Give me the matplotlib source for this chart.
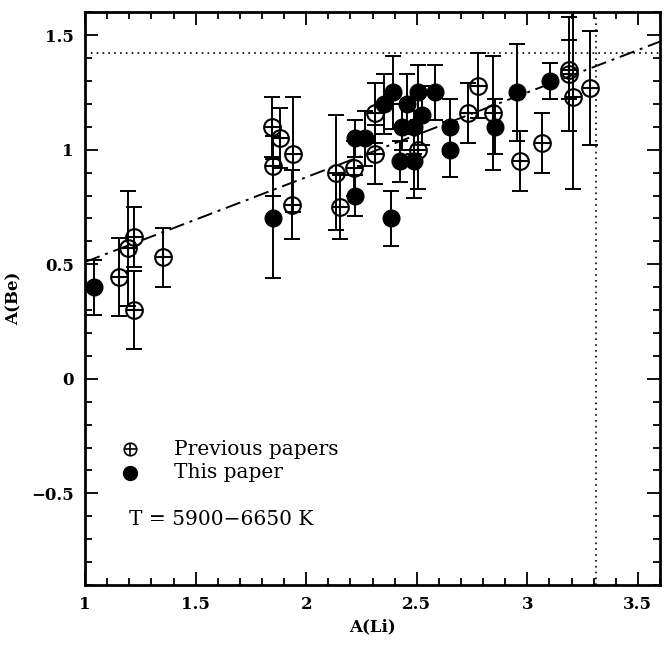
import matplotlib
matplotlib.use("Agg")
import matplotlib.pyplot as plt
from matplotlib.ticker import MultipleLocator
import numpy as np

# Previous papers (open circles with cross)
prev_li = [1.154, 1.193, 1.223, 1.223, 1.351, 1.845, 1.882, 1.852, 1.940, 1.935,
           2.136, 2.154, 2.214, 2.312, 2.312, 2.504, 2.734, 2.775, 2.845, 2.965,
           3.066, 3.187, 3.190, 3.205, 3.285]
prev_be = [0.445, 0.57, 0.62, 0.30, 0.53, 1.10, 1.05, 0.93, 0.98, 0.76,
           0.90, 0.75, 0.92, 0.98, 1.16, 1.00, 1.16, 1.28, 1.16, 0.95,
           1.03, 1.33, 1.35, 1.23, 1.27]
prev_err = [0.17, 0.25, 0.13, 0.17, 0.13, 0.13, 0.13, 0.13, 0.25, 0.15,
            0.25, 0.14, 0.12, 0.13, 0.13, 0.17, 0.13, 0.14, 0.25, 0.13,
            0.13, 0.25, 0.13, 0.40, 0.25]

# This paper (filled circles)
this_li = [1.04, 1.852, 2.222, 2.267, 2.222, 2.353, 2.392, 2.383, 2.433, 2.425,
           2.455, 2.486, 2.504, 2.523, 2.486, 2.584, 2.652, 2.652, 2.855, 2.953,
           3.104]
this_be = [0.40, 0.70, 1.05, 1.05, 0.80, 1.20, 1.25, 0.70, 1.10, 0.95,
           1.20, 1.10, 1.25, 1.15, 0.95, 1.25, 1.10, 1.00, 1.10, 1.25,
           1.30]
this_err = [0.12, 0.26, 0.08, 0.12, 0.09, 0.13, 0.16, 0.12, 0.10, 0.09,
            0.13, 0.12, 0.12, 0.13, 0.16, 0.12, 0.12, 0.12, 0.12, 0.21,
            0.08]

# linear fit and meteoritic values
fit_slope = 0.37
fit_icpt = 0.14
met_li = 3.31
met_be = 1.42

xlim = (1.0, 3.6)
ylim = (-0.9, 1.6)

fig = plt.figure(figsize=(6.7, 6.45), dpi=100)
ax = fig.add_axes([0.127, 0.093, 0.858, 0.888])

# meteoritic lines
ax.axhline(met_be, color="black", ls=(0, (1, 2.5)), lw=1.2)
ax.axvline(met_li, color="black", ls=(0, (1, 2.5)), lw=1.2)

# fit line
fx = np.array(xlim)
ax.plot(fx, fit_slope * fx + fit_icpt, color="black", lw=1.4,
        ls=(0, (8, 3, 1.5, 3)))

eb = dict(fmt="none", ecolor="black", elinewidth=1.4, capsize=5.5, capthick=1.4)
ax.errorbar(prev_li, prev_be, yerr=prev_err, **eb)
ax.errorbar(this_li, this_be, yerr=this_err, **eb)

ax.plot(prev_li, prev_be, "o", ms=12, mfc="none", mec="black", mew=1.5)
ax.plot(prev_li, prev_be, "+", ms=12, mec="black", mew=1.5)
ax.plot(this_li, this_be, "o", ms=12, mfc="black", mec="black")

# legend
ax.plot([1.204], [-0.308], "o", ms=9, mfc="none", mec="black", mew=1.2)
ax.plot([1.204], [-0.308], "+", ms=9, mec="black", mew=1.2)
ax.plot([1.204], [-0.41], "o", ms=10, mfc="black", mec="black")
ax.text(1.40, -0.308, "Previous papers", fontsize=14.5, family="DejaVu Serif",
        va="center", ha="left")
ax.text(1.40, -0.41, "This paper", fontsize=14.5, family="DejaVu Serif",
        va="center", ha="left")
ax.text(1.200, -0.613, "T = 5900\u22126650 K", fontsize=14.5, family="DejaVu Serif",
        va="center", ha="left")

ax.set_xlim(*xlim)
ax.set_ylim(*ylim)
ax.xaxis.set_major_locator(MultipleLocator(0.5))
ax.xaxis.set_minor_locator(MultipleLocator(0.1))
ax.yaxis.set_major_locator(MultipleLocator(0.5))
ax.yaxis.set_minor_locator(MultipleLocator(0.1))

def fmt(v, pos):
    s = "%g" % v
    return s.replace("-", "\u2212")
ax.xaxis.set_major_formatter(plt.FuncFormatter(fmt))
ax.yaxis.set_major_formatter(plt.FuncFormatter(fmt))

ax.tick_params(which="both", direction="in", top=True, right=True, width=1.3)
ax.tick_params(which="major", length=9.5, pad=8)
ax.tick_params(which="minor", length=5)
for lab in ax.get_xticklabels() + ax.get_yticklabels():
    lab.set_family("DejaVu Serif")
    lab.set_fontweight("bold")
    lab.set_fontsize(12)
for sp in ax.spines.values():
    sp.set_linewidth(2)

ax.set_xlabel("A(Li)", fontsize=12, fontweight="bold", family="DejaVu Serif", labelpad=4)
ax.set_ylabel("A(Be)", fontsize=12, fontweight="bold", family="DejaVu Serif", labelpad=6)

fig.savefig("out.png", dpi=100)
